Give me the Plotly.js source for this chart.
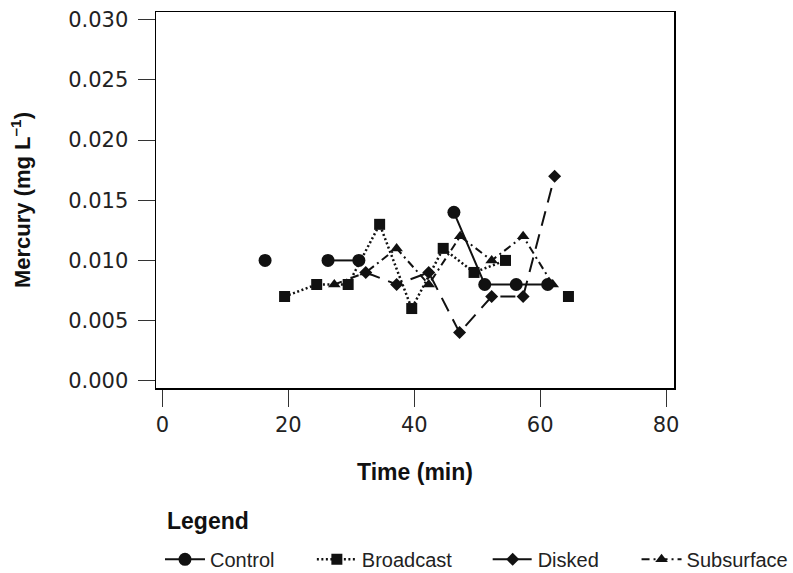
<!DOCTYPE html>
<html>
<head>
<meta charset="utf-8">
<script src="https://cdn.plot.ly/plotly-3.0.1.min.js"></script>
<style>html,body{margin:0;padding:0;background:#fff;}#chart{width:793px;height:573px;}</style>
</head>
<body>
<div id="chart"></div>
<script>
// Time (min) and mercury (mg/L); null = no sample (gap)
var timeControl = [16.3, 21.3, 26.3, 31.2, 36.3, 41.3, 46.3, 51.2, 56.2, 61.2];
var hgControl   = [0.010, null, 0.010, 0.010, null, null, 0.014, 0.008, 0.008, 0.008];

var timeBroadcast = [19.4, 24.5, 29.5, 34.5, 39.6, 44.6, 49.5, 54.5, 59.5, 64.5];
var hgBroadcast   = [0.007, 0.008, 0.008, 0.013, 0.006, 0.011, 0.009, 0.010, null, 0.007];

var timeDisked = [32.3, 37.2, 42.3, 47.2, 52.3, 57.3, 62.3];
var hgDisked   = [0.009, 0.008, 0.009, 0.004, 0.007, 0.007, 0.017];

var timeSubsurface = [27.3, 32.3, 37.2, 42.3, 47.3, 52.3, 57.3, 62.0];
var hgSubsurface   = [0.008, 0.009, 0.011, 0.008, 0.012, 0.010, 0.012, 0.008];

var seriesNames = ['Control', 'Broadcast', 'Disked', 'Subsurface'];
var xTicks = [0, 20, 40, 60, 80];
var yTicks = [0, 0.005, 0.010, 0.015, 0.020, 0.025, 0.030];

var ink = '#111';
var legendFont = {family: 'Liberation Sans, Arial, sans-serif', size: 20, color: '#222'};

var traces = [
  {x: timeSubsurface, y: hgSubsurface, name: seriesNames[3], mode: 'lines+markers', legend: 'legend4',
   line: {color: ink, width: 2, dash: '8px,4px,2px,4px'},
   marker: {symbol: 'triangle-up', size: 11, color: ink}, connectgaps: false},
  {x: timeDisked, y: hgDisked, name: seriesNames[2], mode: 'lines+markers', legend: 'legend3',
   line: {color: ink, width: 2, dash: '15px,9px'},
   marker: {symbol: 'diamond', size: 10, color: ink}, connectgaps: false},
  {x: timeBroadcast, y: hgBroadcast, name: seriesNames[1], mode: 'lines+markers', legend: 'legend2',
   line: {color: ink, width: 2.5, dash: '2px,2.5px'},
   marker: {symbol: 'square', size: 11, color: ink}, connectgaps: false},
  {x: timeControl, y: hgControl, name: seriesNames[0], mode: 'lines+markers', legend: 'legend',
   line: {color: ink, width: 2, dash: 'solid'},
   marker: {symbol: 'circle', size: 13, color: ink}, connectgaps: false}
];

function legendAt(x) {
  return {orientation: 'h', x: x, xanchor: 'left', y: -0.4557, yanchor: 'middle',
    font: legendFont, bgcolor: 'rgba(0,0,0,0)', borderwidth: 0, itemwidth: 40,
    tracegroupgap: 0};
}

var layout = {
  width: 793, height: 573,
  margin: {l: 156, r: 118.5, t: 11.5, b: 184.7, autoexpand: false},
  paper_bgcolor: '#fff', plot_bgcolor: '#fff',
  showlegend: true,
  xaxis: {
    range: [-1.03, 81.27], tickvals: xTicks, ticktext: xTicks.map(String),
    showline: true, linecolor: '#000', linewidth: 1.5, mirror: true,
    ticks: 'outside', ticklen: 17, tickwidth: 1, tickcolor: '#333',
    showgrid: false, zeroline: false, automargin: false,
    tickfont: {family: 'DejaVu Sans, sans-serif', size: 21, color: '#222'},
    title: {text: 'Time (min)', standoff: 28,
      font: {family: 'Liberation Sans, Arial, sans-serif', size: 23, color: '#111', weight: 'bold'}}
  },
  yaxis: {
    range: [-0.000605, 0.03065], tickvals: yTicks, ticktext: yTicks.map(function (v) { return v.toFixed(3); }),
    showline: true, linecolor: '#000', linewidth: 1.5, mirror: true,
    ticks: 'outside', ticklen: 17, tickwidth: 1, tickcolor: '#333',
    showgrid: false, zeroline: false, automargin: false, ticklabelstandoff: 5,
    tickfont: {family: 'DejaVu Sans, sans-serif', size: 21, color: '#222'},
    title: {text: 'Mercury (mg L<sup>–1</sup>)', standoff: 31,
      font: {family: 'Liberation Sans, Arial, sans-serif', size: 22, color: '#111', weight: 'bold'}}
  },
  legend: legendAt(0.0077),
  legend2: legendAt(0.3009),
  legend3: legendAt(0.6403),
  legend4: legendAt(0.9277),
  annotations: [{
    text: '<b>Legend</b>', xref: 'paper', yref: 'paper', x: 0.0174, y: -0.3548,
    xanchor: 'left', yanchor: 'middle', showarrow: false,
    font: {family: 'Liberation Sans, Arial, sans-serif', size: 23, color: '#111'}
  }]
};

Plotly.newPlot('chart', traces, layout, {displayModeBar: false, staticPlot: true});
</script>
</body>
</html>
